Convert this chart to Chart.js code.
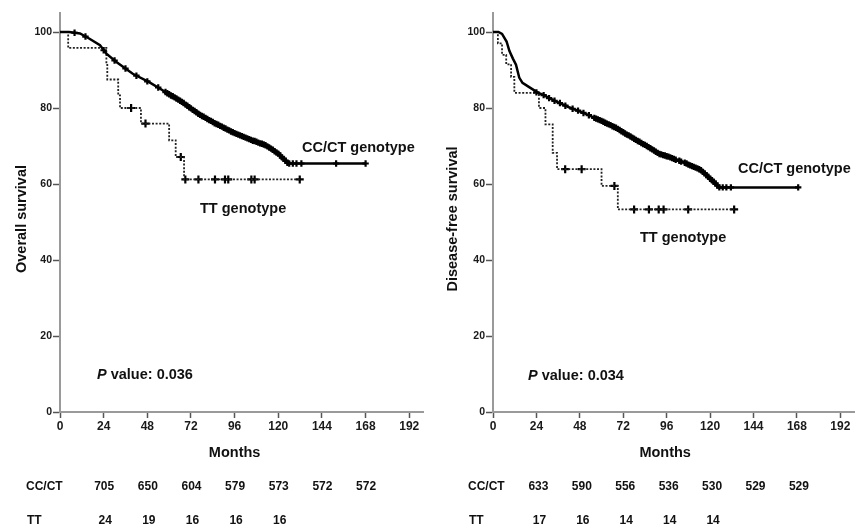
<!DOCTYPE html>
<html><head><meta charset="utf-8">
<script src="https://cdn.jsdelivr.net/npm/chart.js@4.4.1/dist/chart.umd.min.js"></script>
<style>
html,body{margin:0;padding:0;background:#fff;}
#wrap{position:relative;width:861px;height:529px;overflow:hidden;background:#fff;}
canvas{position:absolute;top:0;}
#c1{left:0;} #c2{left:430px;}
</style></head><body>
<div id="wrap"><canvas id="c1" width="430" height="529"></canvas><canvas id="c2" width="431" height="529"></canvas></div>
<script>
// ---------- tick values ----------
const xTicks = [0, 24, 48, 72, 96, 120, 144, 168, 192];
const yTicks = [0, 20, 40, 60, 80, 100];

// ---------- Overall survival ----------
const osCcTime = [0, 5, 11, 16, 22, 25.5, 31, 40, 49, 58, 67, 76, 85.5, 94.5, 103.5, 113, 120, 125.5, 168];
const osCcSurv = [100, 100, 99.6, 98.3, 96.5, 94.3, 92.1, 89.0, 86.8, 84.2, 81.6, 78.5, 75.9, 73.7, 71.9, 70.2, 68.0, 65.4, 65.4];
const osCcCensTime = [8, 14, 24, 30, 36, 42, 48, 54, 58, 60, 62, 64, 66, 68, 70, 72, 74, 76, 78, 80, 82, 84, 86, 88, 90, 92, 94, 96, 98, 100, 102, 104, 106, 108, 110, 112, 114, 116, 118, 120, 122, 124, 126, 128, 130, 132.7, 151.8, 168];
const osCcCensSurv = [99.8, 98.8, 95.2, 92.5, 90.4, 88.5, 87.0, 85.4, 84.2, 83.6, 83.1, 82.5, 81.9, 81.3, 80.6, 79.9, 79.2, 78.5, 77.9, 77.4, 76.8, 76.3, 75.8, 75.3, 74.8, 74.3, 73.8, 73.4, 73.0, 72.6, 72.2, 71.8, 71.4, 71.1, 70.7, 70.4, 69.9, 69.3, 68.6, 68.0, 67.0, 66.1, 65.4, 65.4, 65.4, 65.4, 65.4, 65.4];
const osCcCensTimeB = [59, 61, 63, 65, 67, 69, 71, 73, 75, 77, 79, 81, 83, 85, 87, 89, 91, 93, 95, 97, 99, 101, 103, 105, 107, 109, 111, 113, 115, 117, 119, 121, 123, 125];
const osCcCensSurvB = [83.9, 83.3, 82.8, 82.2, 81.6, 80.9, 80.2, 79.5, 78.9, 78.2, 77.7, 77.1, 76.6, 76.0, 75.6, 75.1, 74.6, 74.1, 73.6, 73.2, 72.8, 72.4, 72.0, 71.6, 71.3, 70.9, 70.6, 70.2, 69.6, 69.0, 68.3, 67.5, 66.6, 65.6];
const osTtTime = [0, 4.5, 25.5, 26, 32, 33, 44.5, 60, 63.6, 68.2, 131.8];
const osTtSurv = [100, 95.8, 91.7, 87.5, 83.3, 80, 75.9, 71.5, 67.1, 61.2, 61.2];
const osTtCensTime = [39.1, 47, 66.4, 68.9, 76.1, 85.2, 90.7, 92.5, 105.2, 107, 131.8];
const osTtCensSurv = [80, 75.9, 67.1, 61.2, 61.2, 61.2, 61.2, 61.2, 61.2, 61.2, 61.2];

// ---------- Disease-free survival ----------
const dfsCcTime = [0, 3, 5, 7.5, 9.1, 11, 12.7, 14.5, 16.3, 20, 25, 27.2, 34.5, 42, 50, 58, 68, 74.4, 80, 83.5, 92.5, 103.4, 114.2, 121.5, 125.1, 168.7];
const dfsCcSurv = [100, 100, 99.5, 97.5, 95, 93, 91.4, 88, 86.6, 85.5, 84, 83.6, 81.8, 80.2, 78.7, 77, 74.8, 72.9, 71.3, 70.4, 67.8, 66.1, 63.9, 60.8, 59.1, 59.1];
const dfsCcCensTime = [24, 28, 31, 34, 37, 40, 44, 47, 50, 53, 56, 58, 60, 62, 64, 66, 68, 70, 72, 74, 76, 78, 80, 82, 84, 86, 88, 90, 92, 94, 96, 98, 100, 103, 106, 108, 110, 112, 114, 116, 118, 120, 122, 124, 125.1, 127, 129, 131.5, 168.7];
const dfsCcCensSurv = [84.1, 83.4, 82.6, 81.9, 81.3, 80.6, 79.8, 79.3, 78.7, 78.1, 77.4, 77.0, 76.6, 76.1, 75.7, 75.2, 74.8, 74.2, 73.6, 73.0, 72.5, 71.9, 71.3, 70.8, 70.3, 69.7, 69.1, 68.5, 67.9, 67.6, 67.3, 67.0, 66.6, 66.1, 65.6, 65.1, 64.7, 64.3, 63.9, 63.2, 62.3, 61.4, 60.6, 59.6, 59.1, 59.1, 59.1, 59.1, 59.1];
const dfsCcCensTimeB = [57, 59, 61, 63, 65, 67, 69, 71, 73, 75, 77, 79, 81, 83, 85, 87, 89, 91, 93, 95, 97, 99, 101, 104, 107, 109, 111, 113, 115, 117, 119, 121, 123];
const dfsCcCensSurvB = [77.2, 76.8, 76.4, 75.9, 75.5, 75.0, 74.5, 73.9, 73.3, 72.8, 72.2, 71.6, 71.1, 70.5, 70.0, 69.4, 68.8, 68.2, 67.8, 67.5, 67.2, 66.8, 66.4, 65.9, 65.4, 64.9, 64.5, 64.1, 63.6, 62.8, 61.9, 61.0, 60.1];
const dfsTtTime = [0, 2.7, 5, 7.3, 10, 11.8, 25.4, 29, 33, 35.4, 60, 69, 133.3];
const dfsTtSurv = [100, 97, 94, 91.5, 88.2, 84, 80, 75.7, 68.2, 63.9, 59.5, 53.3, 53.3];
const dfsTtCensTime = [39.9, 49, 67.1, 78, 86.2, 91.6, 94.3, 107.9, 133.3];
const dfsTtCensSurv = [63.9, 63.9, 59.5, 53.3, 53.3, 53.3, 53.3, 53.3, 53.3];

// ---------- Numbers at risk ----------
const atRiskMonths = [24, 48, 72, 96, 120, 144, 168];
const osAtRiskCC = [705, 650, 604, 579, 573, 572, 572];
const osAtRiskTT = [24, 19, 16, 16, 16];
const dfsAtRiskCC = [633, 590, 556, 536, 530, 529, 529];
const dfsAtRiskTT = [17, 16, 14, 14, 14];

const FONT = '"Liberation Sans", Arial, Helvetica, sans-serif';
const pts = (xs, ys) => xs.map((x, i) => ({x: x, y: ys[i]}));

function makePanel(canvasId, d) {
  const textPlugin = {
    id: 'txt_' + canvasId,
    afterDraw(chart) {
      const ctx = chart.ctx;
      const xs = chart.scales.x;
      ctx.save();
      ctx.fillStyle = '#111';
      ctx.textBaseline = 'middle';
      ctx.save();
      ctx.translate(d.yTitleX, 219);
      ctx.rotate(-Math.PI / 2);
      ctx.textAlign = 'center';
      ctx.font = 'bold 14.5px ' + FONT;
      ctx.fillText(d.yTitle, 0, 0);
      ctx.restore();
      ctx.textAlign = 'center';
      ctx.font = 'bold 14.5px ' + FONT;
      ctx.fillText('Months', xs.getPixelForValue(96) + d.monthsDx, 453);
      ctx.textAlign = 'left';
      ctx.font = 'bold 14.5px ' + FONT;
      ctx.fillText('CC/CT genotype', d.ccX, d.ccY);
      ctx.fillText('TT genotype', d.ttX, d.ttY);
      ctx.font = 'italic bold 14.5px ' + FONT;
      ctx.fillText('P', d.pX, d.pY);
      const pw = ctx.measureText('P ').width;
      ctx.font = 'bold 14.5px ' + FONT;
      ctx.fillText('value: ' + d.pValue, d.pX + pw, d.pY);
      ctx.font = 'bold 12px ' + FONT;
      ctx.fillText('CC/CT', d.tabX, 486.5);
      ctx.fillText('TT', d.tabX + 1, 521);
      ctx.textAlign = 'center';
      d.riskCC.forEach((v, i) => ctx.fillText(String(v), xs.getPixelForValue(atRiskMonths[i]) + d.numDx, 486.5));
      d.riskTT.forEach((v, i) => ctx.fillText(String(v), xs.getPixelForValue(atRiskMonths[i]) + d.numDx + 1, 521));
      ctx.restore();
    }
  };
  const tickFont = {family: FONT, weight: 'bold'};
  return new Chart(document.getElementById(canvasId), {
    type: 'scatter',
    data: {
      datasets: [
        {data: pts(d.ccT, d.ccS), showLine: true, borderColor: '#000', borderWidth: 2.5, pointRadius: 0, tension: 0},
        {data: pts(d.ccCT, d.ccCS).concat(pts(d.ccCTB, d.ccCSB)), showLine: false, pointStyle: 'cross', pointRadius: 3.2, borderColor: '#000', borderWidth: 2.2, pointBackgroundColor: '#000'},
        {data: pts(d.ttT, d.ttS), showLine: true, stepped: true, borderColor: '#222', borderWidth: 1.8, borderDash: [2, 1.6], pointRadius: 0},
        {data: pts(d.ttCT, d.ttCS), showLine: false, pointStyle: 'cross', pointRadius: 4, borderColor: '#000', borderWidth: 2.2}
      ]
    },
    options: {
      responsive: false, animation: false, devicePixelRatio: 1,
      layout: {padding: {top: 13, right: d.padRight, left: 0, bottom: 0}},
      plugins: {legend: {display: false}, tooltip: {enabled: false}},
      scales: {
        x: {
          type: 'linear', min: 0, max: 200,
          afterBuildTicks: s => { s.ticks = xTicks.map(v => ({value: v})); },
          afterFit: s => { s.height = 117; },
          ticks: {font: Object.assign({size: 12}, tickFont), color: '#1a1a1a', padding: 1, autoSkip: false, maxRotation: 0},
          grid: {display: true, drawOnChartArea: false, drawTicks: true, tickLength: 6, tickColor: '#555', tickWidth: 1.5},
          border: {display: true, color: '#9a9a9a', width: 2}
        },
        y: {
          type: 'linear', min: 0, max: 105,
          afterBuildTicks: s => { s.ticks = yTicks.map(v => ({value: v})); },
          afterFit: s => { s.width = d.yWidth; },
          ticks: {font: Object.assign({size: 10.5}, tickFont), color: '#1a1a1a', padding: 1},
          grid: {display: true, drawOnChartArea: false, drawTicks: true, tickLength: 7, tickColor: '#555', tickWidth: 1.5},
          border: {display: true, color: '#9a9a9a', width: 2}
        }
      }
    },
    plugins: [textPlugin]
  });
}

makePanel('c1', {
  ccT: osCcTime, ccS: osCcSurv, ccCT: osCcCensTime, ccCS: osCcCensSurv, ccCTB: osCcCensTimeB, ccCSB: osCcCensSurvB,
  ttT: osTtTime, ttS: osTtSurv, ttCT: osTtCensTime, ttCS: osTtCensSurv,
  riskCC: osAtRiskCC, riskTT: osAtRiskTT,
  yTitle: 'Overall survival', yTitleX: 22, yWidth: 60, padRight: 3,
  ccX: 302, ccY: 148, ttX: 200, ttY: 208.5, pX: 97, pY: 375, pValue: '0.036',
  monthsDx: 0, tabX: 26, numDx: 0.5
});
makePanel('c2', {
  ccT: dfsCcTime, ccS: dfsCcSurv, ccCT: dfsCcCensTime, ccCS: dfsCcCensSurv, ccCTB: dfsCcCensTimeB, ccCSB: dfsCcCensSurvB,
  ttT: dfsTtTime, ttS: dfsTtSurv, ttCT: dfsTtCensTime, ttCS: dfsTtCensSurv,
  riskCC: dfsAtRiskCC, riskTT: dfsAtRiskTT,
  yTitle: 'Disease-free survival', yTitleX: 22.5, yWidth: 63, padRight: 0,
  ccX: 308, ccY: 169, ttX: 210, ttY: 237.5, pX: 98, pY: 376, pValue: '0.034',
  monthsDx: -1.5, tabX: 38, numDx: 2
});
</script>
</body></html>
